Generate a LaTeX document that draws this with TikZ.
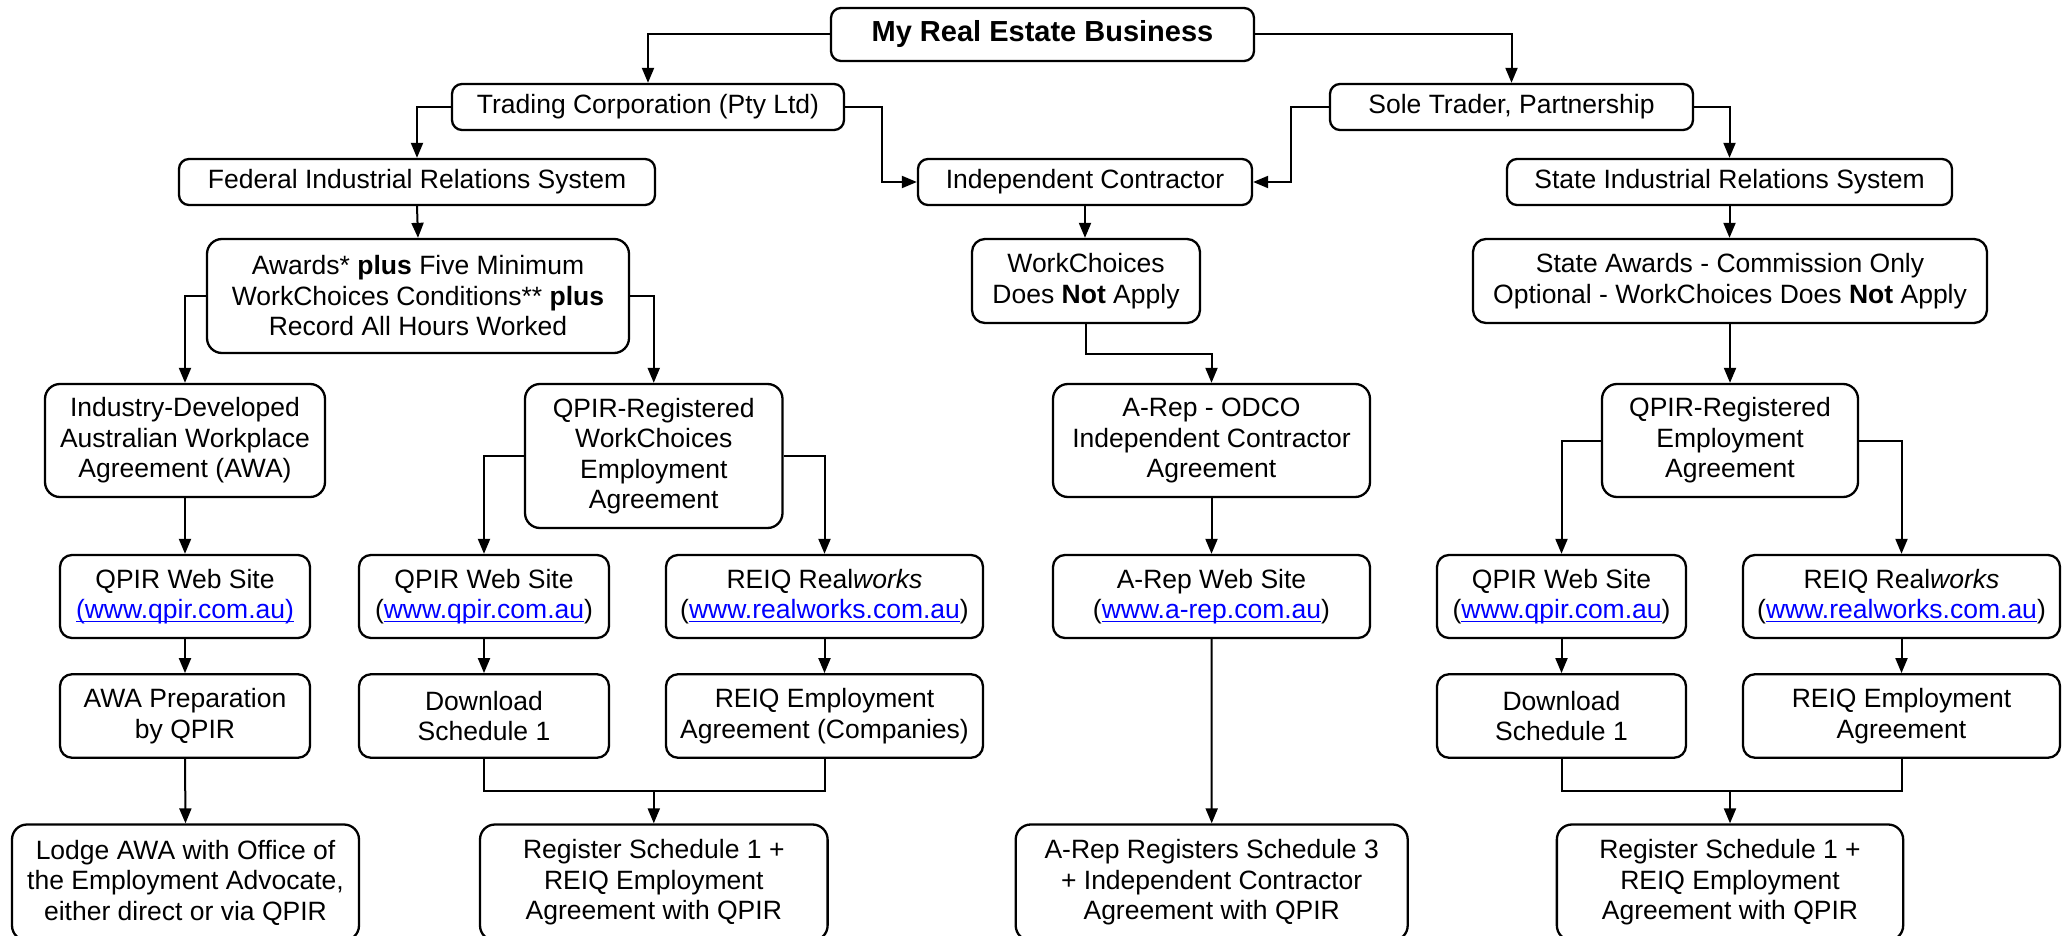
\documentclass[tikz,border=0pt]{standalone}
\usepackage{fontspec}
\setmainfont{Liberation Sans}
\usetikzlibrary{arrows.meta}
\definecolor{linkblue}{RGB}{0,0,255}
\newcommand\lnk[1]{{\color{linkblue}\setbox0\hbox{#1}\rlap{\rule[-3.5pt]{\wd0}{1.6pt}}\box0}}
\begin{document}
\begin{tikzpicture}[x=1pt,y=-1pt,
  box/.style={draw, line width=2.3pt, rounded corners=#1, align=center, inner sep=0pt,
    font=\fontsize{26.5}{30.5}\selectfont},
  box/.default=10pt,
  conn/.style={line width=2pt},
  arr/.style={conn, -{Triangle[length=15pt,width=12pt]}}]
\useasboundingbox (0,0) rectangle (2069,936);
\fill[white] (0,0) rectangle (2069,936);
\clip (0,0) rectangle (2069,936);

% row 0-1
\node[box, minimum width=423pt, minimum height=53pt, font=\fontsize{29}{33}\selectfont] (top) at (1042.5,34.5) {\textbf{My Real Estate Business}};
\node[box, minimum width=392pt, minimum height=46pt] (trading) at (648,107) {Trading Corporation (Pty Ltd)};
\node[box, minimum width=363pt, minimum height=46pt] (sole) at (1511.5,107) {Sole Trader, Partnership};
% row 2
\node[box, minimum width=476pt, minimum height=46pt] (federal) at (417,182) {Federal Industrial Relations System};
\node[box, minimum width=334pt, minimum height=46pt] (indep) at (1085,182) {Independent Contractor};
\node[box, minimum width=445pt, minimum height=46pt] (stateirs) at (1729.5,182) {State Industrial Relations System};
% row 3
\node[box=15pt, minimum width=422pt, minimum height=114pt] (awards) at (418,296) {Awards* \textbf{plus} Five Minimum\\WorkChoices Conditions** \textbf{plus}\\Record All Hours Worked};
\node[box=13pt, minimum width=228pt, minimum height=84pt] (workch) at (1086,281) {WorkChoices\\Does \textbf{Not} Apply};
\node[box=13pt, minimum width=514pt, minimum height=84pt] (stateaw) at (1730,281) {State Awards - Commission Only\\Optional - WorkChoices Does \textbf{Not} Apply};
% row 4
\node[box=15pt, minimum width=280pt, minimum height=113pt] (awa) at (185,440.5) {Industry-Developed\\Australian Workplace\\Agreement (AWA)};
\node[box=15pt, minimum width=257.5pt, minimum height=144pt] (qpirreg) at (653.75,456) {QPIR-Registered\\WorkChoices\\Employment\\Agreement};
\node[box=15pt, minimum width=317pt, minimum height=113pt] (arepodco) at (1211.5,440.5) {A-Rep - ODCO\\Independent Contractor\\Agreement};
\node[box=15pt, minimum width=256pt, minimum height=113pt] (qpirreg2) at (1730,440.5) {QPIR-Registered\\Employment\\Agreement};
% row 5 (web sites)
\node[box=12pt, minimum width=250pt, minimum height=83pt] (web1) at (185,596.5) {QPIR Web Site\\\lnk{(www.qpir.com.au)}};
\node[box=12pt, minimum width=250pt, minimum height=83pt] (web2) at (484,596.5) {QPIR Web Site\\(\lnk{www.qpir.com.au})};
\node[box=12pt, minimum width=317pt, minimum height=83pt] (reiq1) at (824.5,596.5) {REIQ Real\textit{works}\\(\lnk{www.realworks.com.au})};
\node[box=12pt, minimum width=317pt, minimum height=83pt] (arepweb) at (1211.5,596.5) {A-Rep Web Site\\(\lnk{www.a-rep.com.au})};
\node[box=12pt, minimum width=249pt, minimum height=83pt] (web3) at (1561.5,596.5) {QPIR Web Site\\(\lnk{www.qpir.com.au})};
\node[box=12pt, minimum width=317pt, minimum height=83pt] (reiq2) at (1901.5,596.5) {REIQ Real\textit{works}\\(\lnk{www.realworks.com.au})};
% row 6
\node[box=12pt, minimum width=250pt, minimum height=83.5pt] (awaprep) at (185,716) {AWA Preparation\\by QPIR};
\node[box=12pt, minimum width=250pt, minimum height=83.5pt] (dl1) at (484,716) {Download\\Schedule 1};
\node[box=12pt, minimum width=317pt, minimum height=83.5pt] (reiqemp1) at (824.5,716) {REIQ Employment\\Agreement (Companies)};
\node[box=12pt, minimum width=249pt, minimum height=83.5pt] (dl2) at (1561.5,716) {Download\\Schedule 1};
\node[box=12pt, minimum width=317pt, minimum height=83.5pt] (reiqemp2) at (1901.5,716) {REIQ Employment\\Agreement};
% row 7
\node[box=15pt, minimum width=347pt, minimum height=116pt] (lodge) at (185.5,882.5) {Lodge AWA with Office of\\the Employment Advocate,\\either direct or via QPIR};
\node[box=15pt, minimum width=347.6pt, minimum height=116pt] (reg1) at (653.8,882.5) {Register Schedule 1 +\\REIQ Employment\\Agreement with QPIR};
\node[box=15pt, minimum width=392pt, minimum height=116pt] (arepreg) at (1211.7,882.5) {A-Rep Registers Schedule 3\\+ Independent Contractor\\Agreement with QPIR};
\node[box=15pt, minimum width=346.3pt, minimum height=116pt] (reg2) at (1730,882.5) {Register Schedule 1 +\\REIQ Employment\\Agreement with QPIR};

% helper coordinates
\coordinate (k1) at (882,107);
\coordinate (k2) at (1290.5,107);
\coordinate (m1) at (653.8,790.6);
\coordinate (m2) at (1730,790.6);

% connectors
\draw[arr] (top.west) -| (trading.north);
\draw[arr] (top.east) -| (sole.north);
\draw[arr] (trading.west) -| (federal.north);
\draw[arr] (trading.east) -- (k1) |- (indep.west);
\draw[arr] (sole.west) -- (k2) |- (indep.east);
\draw[arr] (sole.east) -| (stateirs.north);
\draw[arr] (federal.south) -- (awards.north);
\draw[arr] (indep.south) -- (indep.south |- workch.north);
\draw[arr] (stateirs.south) -- (stateirs.south |- stateaw.north);
\draw[arr] (awards.west) -| (awa.north);
\draw[arr] (awards.east) -| (qpirreg.north);
\draw[arr] (workch.south) -- ++(0,30) -| (arepodco.north);
\draw[arr] (stateaw.south) -- (qpirreg2.north);
\draw[arr] (awa.south) -- (web1.north);
\draw[arr] (qpirreg.west) -| (web2.north);
\draw[arr] (qpirreg.east) -| (reiq1.north);
\draw[arr] (arepodco.south) -- (arepweb.north);
\draw[arr] (qpirreg2.west) -| (web3.north);
\draw[arr] (qpirreg2.east) -| (reiq2.north);
\draw[arr] (web1.south) -- (awaprep.north);
\draw[arr] (web2.south) -- (dl1.north);
\draw[arr] (reiq1.south) -- (reiqemp1.north);
\draw[arr] (web3.south) -- (dl2.north);
\draw[arr] (reiq2.south) -- (reiqemp2.north);
\draw[arr] (awaprep.south) -- (lodge.north);
\draw[arr] (arepweb.south) -- (arepreg.north);
\draw[conn] (dl1.south) |- (m1) -| (reiqemp1.south);
\draw[arr] (m1) -- (reg1.north);
\draw[conn] (dl2.south) |- (m2) -| (reiqemp2.south);
\draw[arr] (m2) -- (reg2.north);
\end{tikzpicture}
\end{document}
